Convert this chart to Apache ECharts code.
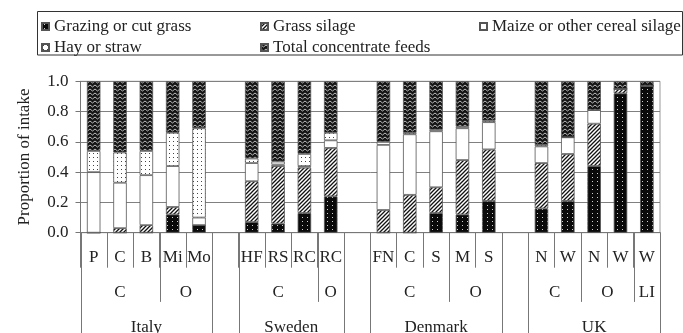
<!DOCTYPE html>
<html>
<head>
<meta charset="utf-8">
<script src="https://cdn.jsdelivr.net/npm/echarts@6/dist/echarts.min.js"></script>
<style>
  html, body { margin: 0; padding: 0; background: #fff; }
  #chart { width: 683px; height: 333px; }
</style>
</head>
<body>
<div id="chart"></div>
<script>
// slot labels (empty string = gap between countries)
const slotLabels = ['P', 'C', 'B', 'Mi', 'Mo', '', 'HF', 'RS', 'RC', 'RC', '', 'FN', 'C', 'S', 'M', 'S', '', 'N', 'W', 'N', 'W', 'W']
const countries = ['Italy', 'Sweden', 'Denmark', 'UK']
// production system per country: [label, number of farms]
const systems = [
  [['C', 3], ['O', 2]],
  [['C', 3], ['O', 1]],
  [['C', 3], ['O', 2]],
  [['C', 2], ['O', 2], ['LI', 1]],
]

const seriesNames = ['Grazing or cut grass', 'Grass silage', 'Maize or other cereal silage', 'Hay or straw', 'Total concentrate feeds']
const grazing = [0, 0, 0, 0.12, 0.05, null, 0.07, 0.06, 0.13, 0.24, null, 0, 0, 0.13, 0.12, 0.21, null, 0.16, 0.21, 0.44, 0.92, 0.97]
const grassSilage = [0, 0.03, 0.05, 0.05, 0, null, 0.27, 0.38, 0.30, 0.32, null, 0.15, 0.25, 0.17, 0.36, 0.34, null, 0.30, 0.31, 0.28, 0.03, 0]
const maize = [0.40, 0.30, 0.33, 0.27, 0.05, null, 0.12, 0.01, 0.01, 0.05, null, 0.43, 0.40, 0.37, 0.21, 0.18, null, 0.11, 0.11, 0.09, 0, 0]
const hay = [0.14, 0.20, 0.16, 0.22, 0.59, null, 0.03, 0.02, 0.08, 0.05, null, 0.02, 0.01, 0.01, 0.01, 0.01, null, 0.01, 0, 0, 0, 0]
const concentrate = [0.46, 0.47, 0.46, 0.34, 0.31, null, 0.51, 0.53, 0.48, 0.34, null, 0.40, 0.34, 0.32, 0.30, 0.26, null, 0.42, 0.37, 0.19, 0.05, 0.03]
const yTicks = [0, 0.2, 0.4, 0.6, 0.8, 1.0]

const FONT = '"Liberation Serif", "Times New Roman", serif'

// fill patterns
function tile(w, h, draw) {
  const c = document.createElement('canvas')
  c.width = w
  c.height = h
  draw(c.getContext('2d'))
  return { image: c, repeat: 'repeat' }
}
const patGrazing = tile(5, 4, g => {
  g.fillStyle = '#0a0a0a'; g.fillRect(0, 0, 5, 4)
  g.fillStyle = '#cfcfcf'; g.fillRect(2, 1, 1, 1)
})
const patSilage = tile(4, 4, g => {
  g.fillStyle = '#fff'; g.fillRect(0, 0, 4, 4)
  g.strokeStyle = '#111'; g.lineWidth = 1.3
  g.beginPath()
  g.moveTo(-1, 1); g.lineTo(1, -1)
  g.moveTo(0, 4); g.lineTo(4, 0)
  g.moveTo(3, 5); g.lineTo(5, 3)
  g.stroke()
})
const patHay = tile(4, 4, g => {
  g.fillStyle = '#fff'; g.fillRect(0, 0, 4, 4)
  g.fillStyle = '#444'; g.fillRect(1, 1, 1, 1)
})
const patConc = tile(5, 4, g => {
  g.fillStyle = '#151515'; g.fillRect(0, 0, 5, 4)
  g.strokeStyle = '#cfcfcf'; g.lineWidth = 0.9
  g.beginPath()
  g.moveTo(0, 1); g.lineTo(2.5, 3); g.lineTo(5, 1)
  g.stroke()
})
const fills = [patGrazing, patSilage, '#ffffff', patHay, patConc]
const values = [grazing, grassSilage, maize, hay, concentrate]

// group spans for the lower label rows
const level2 = []
const level3 = []
let pos = 0
countries.forEach((c, i) => {
  const start = pos
  systems[i].forEach(([name, n]) => {
    level2.push({ name, start: pos, end: pos + n })
    pos += n
  })
  level3.push({ name: c, start, end: pos })
  pos += 1
})
const groupData = level2.map((g, i) => [g.start, g.end, 2, i])
  .concat(level3.map((g, i) => [g.start, g.end, 3, i]))

const chart = echarts.init(document.getElementById('chart'))

const barSeries = seriesNames.map((name, i) => ({
  name,
  type: 'bar',
  stack: 'intake',
  barWidth: 13.5,
  xAxisIndex: 0,
  yAxisIndex: 0,
  itemStyle: { color: fills[i], borderColor: '#555', borderWidth: 0.8 },
  emphasis: { disabled: true },
  data: values[i],
}))

const groupSeries = {
  type: 'custom',
  xAxisIndex: 1,
  yAxisIndex: 0,
  silent: true,
  clip: false,
  encode: { x: [0, 1], y: 2 },
  data: groupData,
  renderItem(params, api) {
    const lvl = api.value(2)
    const idx = api.value(3)
    const p0 = api.coord([api.value(0), 0])
    const p1 = api.coord([api.value(1), 0])
    const len = lvl === 2 ? 69 : 110
    const off = lvl === 2 ? 60 : 95
    const name = lvl === 2 ? level2[idx].name : level3[idx].name
    const x0 = Math.round(p0[0]) + 0.5
    const x1 = Math.round(p1[0]) + 0.5
    return {
      type: 'group',
      children: [
        { type: 'line', shape: { x1: x0, y1: p0[1], x2: x0, y2: p0[1] + len }, style: { stroke: '#777', lineWidth: 1 } },
        { type: 'line', shape: { x1: x1, y1: p1[1], x2: x1, y2: p1[1] + len }, style: { stroke: '#777', lineWidth: 1 } },
        {
          type: 'text',
          style: {
            text: name, x: (p0[0] + p1[0]) / 2, y: p0[1] + off,
            align: 'center', verticalAlign: 'middle',
            font: '17px ' + FONT, fill: '#222',
          },
        },
      ],
    }
  },
}

// one legend per entry so the columns line up like the original
const legendPos = [[41, 18], [260, 18], [479, 18], [41, 39], [260, 39]]
const legends = seriesNames.map((name, i) => ({
  data: [name],
  left: legendPos[i][0],
  top: legendPos[i][1],
  padding: 0,
  icon: 'rect',
  itemWidth: 7,
  itemHeight: 7,
  selectedMode: false,
  textStyle: { fontFamily: FONT, fontSize: 17, color: '#222' },
}))

const option = {
  animation: false,
  backgroundColor: '#fff',
  legend: legends,
  graphic: [{
    type: 'rect',
    shape: { x: 37.5, y: 11.5, width: 645, height: 43.5 },
    style: { fill: 'none', stroke: '#333', lineWidth: 1 },
  }],
  grid: {
    left: 80.5, right: 23, top: 81.3, bottom: 100.3,
    show: true, borderColor: '#999', borderWidth: 1,
  },
  xAxis: [{
    type: 'category',
    data: slotLabels,
    axisLine: { lineStyle: { color: '#777' } },
    axisTick: { show: true, interval: 0, length: 35, lineStyle: { color: '#777' } },
    axisLabel: { interval: 0, margin: 16, fontFamily: FONT, fontSize: 17, color: '#222' },
  }, {
    type: 'value',
    min: 0,
    max: slotLabels.length,
    show: false,
  }],
  yAxis: {
    type: 'value',
    min: yTicks[0],
    max: yTicks[yTicks.length - 1],
    interval: 0.2,
    name: 'Proportion of intake',
    nameLocation: 'middle',
    nameGap: 47,
    nameTextStyle: { fontFamily: FONT, fontSize: 17, color: '#222' },
    axisLine: { show: true, lineStyle: { color: '#777' } },
    axisTick: { show: true, length: 5, lineStyle: { color: '#777' } },
    axisLabel: { margin: 12, fontFamily: FONT, fontSize: 17, color: '#222', formatter: v => v.toFixed(1) },
    splitLine: { lineStyle: { color: '#808080' } },
  },
  series: barSeries.concat([groupSeries]),
}

chart.setOption(option)
</script>
</body>
</html>
